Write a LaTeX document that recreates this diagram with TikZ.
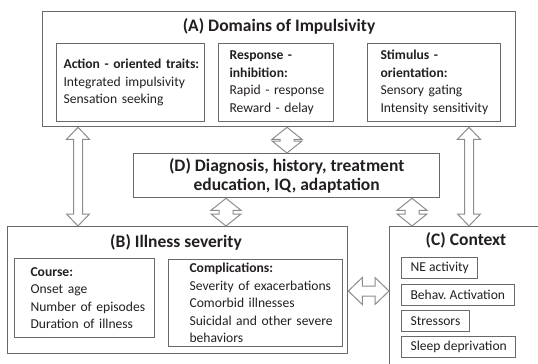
\documentclass[tikz,border=0pt]{standalone}
\usepackage{fontspec}
\setmainfont{Carlito}
\usetikzlibrary{calc}
\definecolor{boxgray}{RGB}{105,105,105}
\definecolor{arrowgray}{RGB}{140,140,140}
\definecolor{textdark}{RGB}{35,31,32}
\newcommand{\itemfont}{\fontsize{13.6}{17.5}\selectfont}
\newcommand{\titlefont}{\fontsize{17.5}{19}\selectfont\bfseries}
\hyphenpenalty=10000
\exhyphenpenalty=10000
% hollow double arrow: from, to, head length, head half width, shaft half width
\newcommand{\hollowarrow}[5]{%
    \draw[arrowline] (#1) -- ($(#1)!#3!(#2)!#4!90:(#2)$) -- ($(#1)!#3!(#2)!#5!90:(#2)$)
        -- ($(#2)!#3!(#1)!#5!-90:(#1)$) -- ($(#2)!#3!(#1)!#4!-90:(#1)$) -- (#2)
        -- ($(#2)!#3!(#1)!#4!90:(#1)$) -- ($(#2)!#3!(#1)!#5!90:(#1)$)
        -- ($(#1)!#3!(#2)!#5!-90:(#2)$) -- ($(#1)!#3!(#2)!#4!-90:(#2)$) -- cycle;%
}
\tikzset{
    bigbox/.style={draw=boxgray, line width=1.3pt, anchor=north west, inner sep=0pt},
    itembox/.style={draw=boxgray, line width=1.1pt, anchor=north west, align=left, inner xsep=3pt, font=\itemfont},
    tagbox/.style={draw=boxgray, line width=1.1pt, anchor=north west, inner xsep=9pt, minimum height=21pt, font=\itemfont},
    boxtitle/.style={font=\titlefont},
    arrowline/.style={draw=arrowgray, fill=white, line width=1pt, line join=miter}
}

\begin{document}
\begin{tikzpicture}[x=1pt,y=-1pt,text=textdark]
    \useasboundingbox (0,0) rectangle (538,364);
    \clip (0,0) rectangle (538,364);

    % (A)
    \node[bigbox, minimum width=473, minimum height=115] (domains) at (42,11) {};
    \node[boxtitle] (domainstitle) at (279,26) {(A) Domains of Impulsivity};
    \node[itembox, text width=142, minimum height=78] (action) at (56,43)
        {\leftskip=4pt \textbf{Action - oriented traits:}\\Integrated impulsivity\\Sensation seeking\par};
    \node[itembox, text width=109, minimum height=78] (response) at (218,43)
        {\leftskip=8pt \textbf{Response -}\\\textbf{inhibition:}\\Rapid - response\\Reward - delay\par};
    \node[itembox, text width=127, minimum height=78] (stimulus) at (367,43)
        {\leftskip=10pt \textbf{Stimulus -}\\\textbf{orientation:}\\Sensory gating\\Intensity sensitivity\par};

    % (D)
    \node[bigbox, minimum width=306, minimum height=44, align=center, font=\titlefont] (diagnosis) at (133,153)
        {(D) Diagnosis, history, treatment\\education, IQ, adaptation};

    % (B)
    \node[bigbox, minimum width=340, minimum height=127] (severity) at (7,226) {};
    \node[boxtitle] (severitytitle) at (176,242) {(B) Illness severity};
    \node[itembox, text width=134, minimum height=79] (course) at (14,258)
        {\leftskip=13pt \textbf{Course:}\\Onset age\\Number of episodes\\Duration of illness\par};
    \node[itembox, text width=168, minimum height=87] (complications) at (168,259)
        {\leftskip=18pt \textbf{Complications:}\\Severity of exacerbations\\Comorbid illnesses\\Suicidal and other severe\\behaviors\par};

    % (C)
    \node[bigbox, minimum width=170, minimum height=150] (context) at (389,226) {};
    \node[boxtitle] (contexttitle) at (466,240) {(C) Context};
    \node[tagbox] (ne) at (401,257) {NE activity};
    \node[tagbox] (behav) at (401,284) {Behav.\ Activation};
    \node[tagbox] (stressors) at (401,310) {Stressors};
    \node[tagbox] (sleep) at (401,336) {Sleep deprivation};

    % arrows
    \coordinate (abtop) at (78,0 |- domains.south);
    \coordinate (abbot) at (78,0 |- severity.north);
    \coordinate (actop) at (469,0 |- domains.south);
    \coordinate (acbot) at (469,0 |- context.north);
    \coordinate (adtop) at (287,0 |- domains.south);
    \coordinate (adbot) at (287,0 |- diagnosis.north);
    \coordinate (dbtop) at (226,0 |- diagnosis.south);
    \coordinate (dbbot) at (226,0 |- severity.north);
    \coordinate (dctop) at (412,0 |- diagnosis.south);
    \coordinate (dcbot) at (412,0 |- context.north);
    \coordinate (bcleft) at (0,291 -| severity.east);
    \coordinate (bcright) at (0,291 -| context.west);
    \hollowarrow{abtop}{abbot}{12pt}{11.5pt}{4.5pt}
    \hollowarrow{actop}{acbot}{12pt}{11.5pt}{4.5pt}
    \hollowarrow{adtop}{adbot}{12pt}{15pt}{7pt}
    \hollowarrow{dbtop}{dbbot}{12pt}{15pt}{7pt}
    \hollowarrow{dctop}{dcbot}{12pt}{15pt}{7pt}
    \hollowarrow{bcleft}{bcright}{14pt}{13.5pt}{5pt}
\end{tikzpicture}
\end{document}
